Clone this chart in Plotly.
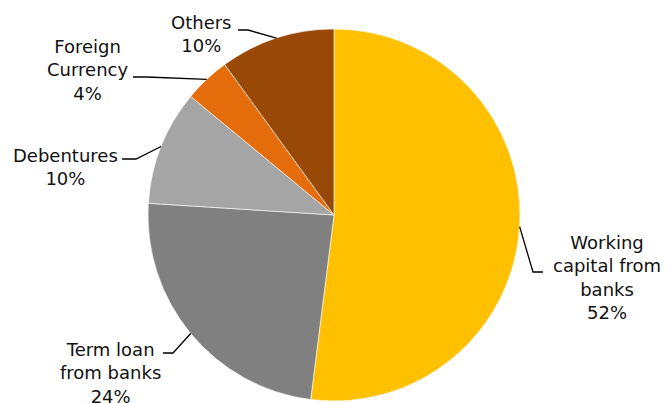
import math
import plotly.graph_objects as go

# Funding mix, clockwise from 12 o'clock
categories = ["Working capital from banks", "Term loan from banks", "Debentures",
              "Foreign Currency", "Others"]
shares = [52, 24, 10, 4, 10]
label_text = ["Working<br>capital from<br>banks", "Term loan<br>from banks",
              "Debentures", "Foreign<br>Currency", "Others"]
colors = ["#FFC000", "#808080", "#A5A5A5", "#E46C0A", "#984807"]

W, H = 667, 403
CX, CY, R = 334, 215, 186  # pie centre and radius in pixels

# label block centres (px) and where each leader line meets the text (px)
label_pos = [(607, 277), (110, 373), (65, 167), (87, 70), (201, 34)]
leader_start = [(543, 272), (163, 353), (122, 159), (133, 77), (238, 30)]
stub = [-10, 10, 14, 14, 10]


def paper(x, y):
    return x / W, 1 - y / H


fig = go.Figure(go.Pie(
    labels=categories,
    values=shares,
    sort=False,
    direction="clockwise",
    rotation=0,
    marker=dict(colors=colors, line=dict(color="white", width=0.6)),
    textinfo="none",
    hoverinfo="label+percent",
    showlegend=False,
    domain=dict(x=[(CX - R) / W, (CX + R) / W],
                y=[(H - CY - R) / H, (H - CY + R) / H]),
))

total = sum(shares)
cum = 0
shapes, annotations = [], []
for i, v in enumerate(shares):
    mid = (cum + v / 2) / total * 2 * math.pi
    cum += v
    ex, ey = CX + R * math.sin(mid), CY - R * math.cos(mid)
    sx, sy = leader_start[i]
    kx, ky = sx + stub[i], sy
    pts = [paper(sx, sy), paper(kx, ky), paper(ex, ey)]
    path = "M {} {} L {} {} L {} {}".format(*[c for p in pts for c in p])
    shapes.append(dict(type="path", xref="paper", yref="paper", path=path,
                       line=dict(color="black", width=1.3)))
    lx, ly = paper(*label_pos[i])
    annotations.append(dict(
        x=lx, y=ly, xref="paper", yref="paper", showarrow=False,
        text=f"{label_text[i]}<br>{v}%", align="center",
        xanchor="center", yanchor="middle",
        font=dict(family="DejaVu Sans", size=18, color="#111111"),
    ))

fig.update_layout(
    width=W, height=H,
    margin=dict(l=0, r=0, t=0, b=0),
    paper_bgcolor="white", plot_bgcolor="white",
    shapes=shapes, annotations=annotations,
)

fig.write_html("out.html")
